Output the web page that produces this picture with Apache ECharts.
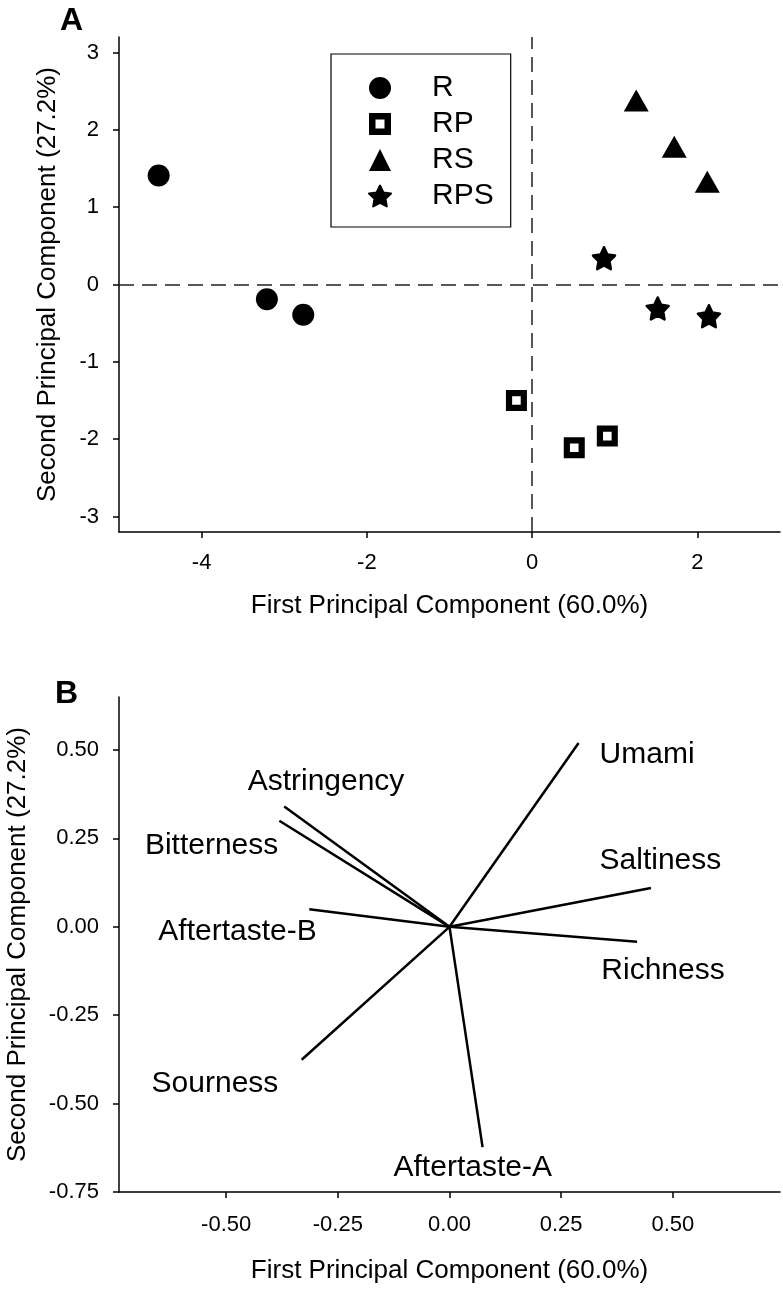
<!DOCTYPE html>
<html lang="en">
<head>
    <meta charset="UTF-8">
    <title>PCA taste</title>
    <script src="https://cdn.jsdelivr.net/npm/echarts@6/dist/echarts.min.js"></script>
    <style>
        *{
            margin: 0;
            padding: 0;
        }
        html,body{
            width: 100%;
            height: 100%;
            background: #fff;
        }
        .container{
            width: 783px;
            height: 1289px;
        }
    </style>
</head>
<body>
<div class="container"></div>
<script>
    // panel A: sample scores
    let groups = ['R', 'RP', 'RS', 'RPS'];
    let scoresR   = [[-4.52, 1.41], [-3.21, -0.19], [-2.77, -0.39]];
    let scoresRP  = [[-0.19, -1.50], [0.51, -2.11], [0.91, -1.96]];
    let scoresRS  = [[1.26, 2.38], [1.72, 1.78], [2.12, 1.33]];
    let scoresRPS = [[0.87, 0.34], [1.52, -0.31], [2.14, -0.41]];
    let xTicksA = [-4, -2, 0, 2];
    let yTicksA = [-3, -2, -1, 0, 1, 2, 3];

    // panel B: attribute loadings
    let attributes = ['Umami', 'Saltiness', 'Richness', 'Aftertaste-A', 'Sourness', 'Aftertaste-B', 'Bitterness', 'Astringency'];
    let loadPC1 = [0.289, 0.451, 0.420, 0.074, -0.331, -0.314, -0.381, -0.370];
    let loadPC2 = [0.520, 0.110, -0.042, -0.623, -0.376, 0.050, 0.300, 0.340];
    let xTicksB = [-0.5, -0.25, 0, 0.25, 0.5];
    let yTicksB = [-0.75, -0.5, -0.25, 0, 0.25, 0.5];

    // where the attribute names sit (layout, data units)
    let labelSpots = [
        [0.336, 0.487, 'left'], [0.336, 0.187, 'left'], [0.340, -0.125, 'left'],
        [0.052, -0.682, 'center'], [-0.667, -0.444, 'left'], [-0.652, -0.015, 'left'],
        [-0.682, 0.229, 'left'], [-0.452, 0.410, 'left']
    ];

    let font = 'Liberation Sans, Arial, Helvetica, sans-serif';
    let starPath = 'path://M100 0 L129.4 59.5 L195.1 69.1 L147.6 115.5 L158.8 180.9 L100 150 L41.2 180.9 L52.4 115.5 L4.9 69.1 L70.6 59.5 Z';
    // open square drawn as a filled ring
    let boxPath = 'path://M0 0 H22 V22 H0 Z M6.5 6.5 V15.5 H15.5 V6.5 Z';

    let chart = echarts.init(document.querySelector('.container'));

    function valueAxis(idx, min, max, ticks, name, gap, labelMargin, fmt){
        return {
            type: 'value',
            gridIndex: idx,
            min: min,
            max: max,
            name: name,
            nameLocation: 'middle',
            nameGap: gap,
            nameTextStyle: {fontFamily: font, fontSize: 26, color: '#000'},
            axisLine: {show: true, onZero: false, lineStyle: {color: '#000', width: 1.5}},
            axisTick: {show: true, customValues: ticks, length: 6, lineStyle: {color: '#000', width: 1.5}},
            axisLabel: {
                customValues: ticks,
                margin: labelMargin,
                fontFamily: font,
                fontSize: 22,
                color: '#000',
                formatter: fmt
            },
            splitLine: {show: false}
        };
    }

    let fmtA = v => String(v);
    let fmtB = v => v.toFixed(2);

    let pointSeries = [
        {name: 'R', data: scoresR, symbol: 'circle', symbolSize: 22},
        {name: 'RP', data: scoresRP, symbol: boxPath, symbolSize: 21},
        {name: 'RS', data: scoresRS, symbol: 'triangle', symbolSize: [25, 22]},
        {name: 'RPS', data: scoresRPS, symbol: starPath, symbolSize: 22,
            itemStyle: {color: '#000', opacity: 1, borderColor: '#000', borderWidth: 2.5, borderJoin: 'round'}}
    ].map(s => Object.assign({
        type: 'scatter',
        xAxisIndex: 0,
        yAxisIndex: 0,
        itemStyle: {color: '#000', opacity: 1}
    }, s));

    pointSeries[0].markLine = {
        silent: true,
        symbol: 'none',
        label: {show: false},
        lineStyle: {color: '#222', width: 1.5, type: [15, 8], opacity: 1},
        data: [{xAxis: 0}, {yAxis: 0}]
    };

    let vectorSeries = attributes.map((name, i) => ({
        type: 'line',
        name: name,
        xAxisIndex: 1,
        yAxisIndex: 1,
        symbol: 'none',
        lineStyle: {color: '#000', width: 2.5},
        data: [[0, 0], [loadPC1[i], loadPC2[i]]]
    }));

    let labelSeries = {
        type: 'scatter',
        xAxisIndex: 1,
        yAxisIndex: 1,
        symbolSize: 0,
        silent: true,
        itemStyle: {opacity: 1},
        label: {
            show: true,
            position: 'inside',
            formatter: '{b}',
            fontFamily: font,
            fontSize: 30,
            color: '#000',
            verticalAlign: 'middle'
        },
        data: attributes.map((name, i) => ({
            name: name,
            value: [labelSpots[i][0], labelSpots[i][1]],
            label: {align: labelSpots[i][2]}
        }))
    };

    let option = {
        backgroundColor: '#fff',
        animation: false,
        title: [
            {text: 'A', left: 55, top: 0, textStyle: {fontFamily: font, fontSize: 32, fontWeight: 'bold', color: '#000'}},
            {text: 'B', left: 50, top: 673, textStyle: {fontFamily: font, fontSize: 32, fontWeight: 'bold', color: '#000'}}
        ],
        legend: {
            data: groups,
            orient: 'vertical',
            left: 331,
            top: 54,
            padding: [19, 17, 16, 37],
            itemWidth: 22,
            itemHeight: 22,
            itemGap: 6,
            borderColor: '#000',
            borderWidth: 1.2,
            selectedMode: false,
            itemStyle: {opacity: 1},
            textStyle: {fontFamily: font, fontSize: 30, color: '#000', lineHeight: 30, padding: [0, 0, 0, 36]}
        },
        grid: [
            {left: 119, top: 37, right: 3, height: 495, outerBoundsMode: 'none'},
            {left: 119, top: 697, right: 3, height: 495, outerBoundsMode: 'none'}
        ],
        xAxis: [
            valueAxis(0, -5, 3, xTicksA, 'First Principal Component (60.0%)', 61, 20, fmtA),
            valueAxis(1, -0.74, 0.74, xTicksB, 'First Principal Component (60.0%)', 66, 22, fmtB)
        ],
        yAxis: [
            valueAxis(0, -3.2, 3.2, yTicksA, 'Second Principal Component (27.2%)', 58, 20, fmtA),
            valueAxis(1, -0.75, 0.65, yTicksB, 'Second Principal Component (27.2%)', 88, 20, fmtB)
        ],
        series: pointSeries.concat(vectorSeries, [labelSeries])
    };

    chart.setOption(option);
</script>
</body>
</html>
